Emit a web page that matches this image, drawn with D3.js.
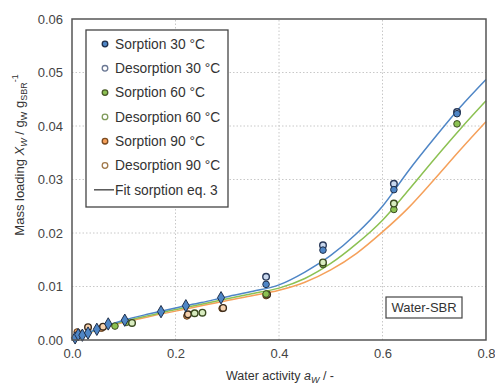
<!DOCTYPE html>
<html>
<head>
<meta charset="utf-8">
<script src="https://cdn.jsdelivr.net/npm/d3@7"></script>
<style>
  body { margin: 0; background: #fff; }
  text { font-family: "Liberation Sans", Arial, sans-serif; }
</style>
</head>
<body>
<svg id="chart" width="495" height="386"></svg>
<script>
// measured points [water activity, mass loading]
const sorption30 = [[0.006, 0.0004], [0.012, 0.0010], [0.020, 0.0009], [0.031, 0.0013], [0.048, 0.0020],
  [0.070, 0.0030], [0.102, 0.0037], [0.172, 0.0053], [0.220, 0.0064], [0.288, 0.0079],
  [0.375, 0.0104], [0.485, 0.0168], [0.622, 0.0281], [0.744, 0.0423]];
const desorption30 = [[0.375, 0.0118], [0.485, 0.0177], [0.622, 0.0292], [0.744, 0.0426]];
const sorption60 = [[0.083, 0.0026], [0.105, 0.0033], [0.375, 0.0086], [0.485, 0.0141], [0.622, 0.0244], [0.744, 0.0404]];
const desorption60 = [[0.116, 0.0032], [0.237, 0.0050], [0.252, 0.0051], [0.485, 0.0145], [0.622, 0.0255]];
const sorption90 = [[0.010, 0.0015], [0.057, 0.0022], [0.222, 0.0045], [0.290, 0.0059], [0.375, 0.0083]];
const desorption90 = [[0.031, 0.0024], [0.060, 0.0025], [0.224, 0.0048], [0.292, 0.0060], [0.377, 0.0085]];

// fit curves
const fitAw = [0, 0.05, 0.1, 0.15, 0.2, 0.25, 0.3, 0.35, 0.4, 0.45, 0.5, 0.55, 0.6, 0.65, 0.7, 0.75, 0.8];
const fit30 = [0, 0.0021, 0.0037, 0.0049, 0.0060, 0.0070, 0.0081, 0.0091, 0.0103, 0.0127, 0.0158, 0.0199, 0.0250, 0.0316, 0.0377, 0.0435, 0.0487];
const fit60 = [0, 0.0020, 0.0035, 0.0046, 0.0057, 0.0067, 0.0077, 0.0087, 0.0097, 0.0115, 0.0143, 0.0180, 0.0224, 0.0280, 0.0338, 0.0394, 0.0447];
const fit90 = [0, 0.0019, 0.0033, 0.0044, 0.0054, 0.0064, 0.0074, 0.0083, 0.0093, 0.0108, 0.0131, 0.0162, 0.0202, 0.0247, 0.0300, 0.0355, 0.0408];

const xTicks = [0, 0.2, 0.4, 0.6, 0.8];
const yTicks = [0, 0.01, 0.02, 0.03, 0.04, 0.05, 0.06];

const blue = '#4f86c6', green = '#8cc152', orange = '#f5a05a';

const svg = d3.select('#chart');
const margin = {left: 72, right: 9, top: 19, bottom: 46};
const width = 495, height = 386;

const x = d3.scaleLinear().domain([0, 0.8]).range([margin.left, width - margin.right]);
const y = d3.scaleLinear().domain([0, 0.06]).range([height - margin.bottom, margin.top]);

// dotted grid
svg.append('g').selectAll('line.gx').data(xTicks.slice(1, -1)).join('line')
  .attr('x1', d => x(d)).attr('x2', d => x(d)).attr('y1', y(0)).attr('y2', y(0.06))
  .attr('stroke', '#c8c8c8').attr('stroke-dasharray', '1.5,2');
svg.append('g').selectAll('line.gy').data(yTicks.slice(1, -1)).join('line')
  .attr('x1', x(0)).attr('x2', x(0.8)).attr('y1', d => y(d)).attr('y2', d => y(d))
  .attr('stroke', '#c8c8c8').attr('stroke-dasharray', '1.5,2');

// axes
const xAxis = svg.append('g').attr('transform', `translate(0,${y(0)})`)
  .call(d3.axisBottom(x).tickValues(xTicks).tickFormat(d3.format('.1f')).tickSize(0).tickPadding(9));
const yAxis = svg.append('g').attr('transform', `translate(${x(0)},0)`)
  .call(d3.axisLeft(y).tickValues(yTicks).tickFormat(d3.format('.2f')).tickSize(0).tickPadding(9));
[xAxis, yAxis].forEach(a => {
  a.select('.domain').remove();
  a.selectAll('text').attr('font-size', 13).attr('fill', '#444')
    .attr('font-family', '"Liberation Sans", Arial, sans-serif');
});

// fit lines
const line = d3.line().x(d => x(d[0])).y(d => y(d[1])).curve(d3.curveMonotoneX);
[[fit90, orange], [fit60, green], [fit30, blue]].forEach(([vals, c]) => {
  svg.append('path')
    .datum(fitAw.map((a, i) => [a, vals[i]]))
    .attr('d', line).attr('fill', 'none').attr('stroke', c).attr('stroke-width', 1.5);
});

// markers
const series = [
  {name: 'Sorption 90 °C', data: sorption90, fill: orange, stroke: '#5a3a1a'},
  {name: 'Desorption 90 °C', data: desorption90, fill: '#f7d2ae', stroke: '#3a2a1a', open: true},
  {name: 'Sorption 60 °C', data: sorption60, fill: green, stroke: '#3a4a20'},
  {name: 'Desorption 60 °C', data: desorption60, fill: '#d8ecc0', stroke: '#3a4a20', open: true},
  {name: 'Desorption 30 °C', data: desorption30, fill: '#c9d8ee', stroke: '#2a3a5a', open: true},
  {name: 'Sorption 30 °C', data: sorption30, fill: blue, stroke: '#1f2f4a'}
];
const diamond = d3.symbol().type(d3.symbolDiamond).size(44);
series.forEach(s => {
  const g = svg.append('g');
  s.data.forEach(d => {
    if (s.name === 'Sorption 30 °C' && d[0] < 0.3) {
      g.append('path').attr('d', diamond)
        .attr('transform', `translate(${x(d[0])},${y(d[1])})`)
        .attr('fill', s.fill).attr('stroke', s.stroke).attr('stroke-width', 1);
    } else {
      g.append('circle').attr('cx', x(d[0])).attr('cy', y(d[1])).attr('r', 3.3)
        .attr('fill', s.fill).attr('stroke', s.stroke).attr('stroke-width', s.open ? 1.4 : 1);
    }
  });
});

// frame
svg.append('rect')
  .attr('x', x(0)).attr('y', y(0.06)).attr('width', x(0.8) - x(0)).attr('height', y(0) - y(0.06))
  .attr('fill', 'none').attr('stroke', '#555').attr('stroke-width', 1.5);

// legend
const legendItems = [
  {label: 'Sorption 30 °C', fill: blue, stroke: '#1f2f4a'},
  {label: 'Desorption 30 °C', fill: '#fff', stroke: '#6b7894'},
  {label: 'Sorption 60 °C', fill: green, stroke: '#4a5a2a'},
  {label: 'Desorption 60 °C', fill: '#fff', stroke: '#7f9a5a'},
  {label: 'Sorption 90 °C', fill: orange, stroke: '#7a4a20'},
  {label: 'Desorption 90 °C', fill: '#fff', stroke: '#a0784a'},
  {label: 'Fit sorption eq. 3', line: true}
];
const legend = svg.append('g').attr('transform', 'translate(86,30)');
legend.append('rect').attr('width', 142).attr('height', 177)
  .attr('fill', '#fff').attr('stroke', '#444').attr('stroke-width', 1.3);
legendItems.forEach((it, i) => {
  const cy = 14 + i * 24.3;
  if (it.line) {
    legend.append('line').attr('x1', 8).attr('x2', 28).attr('y1', cy).attr('y2', cy)
      .attr('stroke', '#555').attr('stroke-width', 1.5);
  } else {
    legend.append('circle').attr('cx', 19).attr('cy', cy).attr('r', 2.8)
      .attr('fill', it.fill).attr('stroke', it.stroke).attr('stroke-width', 1.3);
  }
  legend.append('text').attr('x', 29).attr('y', cy + 4.8)
    .attr('font-size', 13.8).attr('fill', '#333').text(it.label);
});

// Water-SBR label
const tag = svg.append('g').attr('transform', 'translate(386,297)');
tag.append('rect').attr('width', 76).attr('height', 21).attr('fill', '#fff')
  .attr('stroke', '#444').attr('stroke-width', 1.2);
tag.append('text').attr('x', 38).attr('y', 15).attr('text-anchor', 'middle')
  .attr('font-size', 13).attr('fill', '#333').text('Water-SBR');

// axis titles
const xt = svg.append('text').attr('x', 280).attr('y', 380).attr('text-anchor', 'middle')
  .attr('font-size', 12.5).attr('fill', '#333');
xt.append('tspan').text('Water activity ');
xt.append('tspan').attr('font-style', 'italic').text('a');
xt.append('tspan').attr('font-style', 'italic').attr('font-size', 9).attr('dy', 2.5).text('W');
xt.append('tspan').attr('dy', -2.5).text(' / -');

const yt = svg.append('text').attr('transform', 'translate(24,155) rotate(-90)')
  .attr('text-anchor', 'middle').attr('font-size', 13).attr('fill', '#333');
yt.append('tspan').text('Mass loading ');
yt.append('tspan').attr('font-style', 'italic').text('X');
yt.append('tspan').attr('font-style', 'italic').attr('font-size', 9).attr('dy', 3).text('W');
yt.append('tspan').attr('dy', -3).text(' / g');
yt.append('tspan').attr('font-size', 9).attr('dy', 3).text('W');
yt.append('tspan').attr('dy', -3).text(' g');
yt.append('tspan').attr('font-size', 9).attr('dy', 3).text('SBR');
yt.append('tspan').attr('font-size', 9).attr('dy', -9).text('-1');
</script>
</body>
</html>
